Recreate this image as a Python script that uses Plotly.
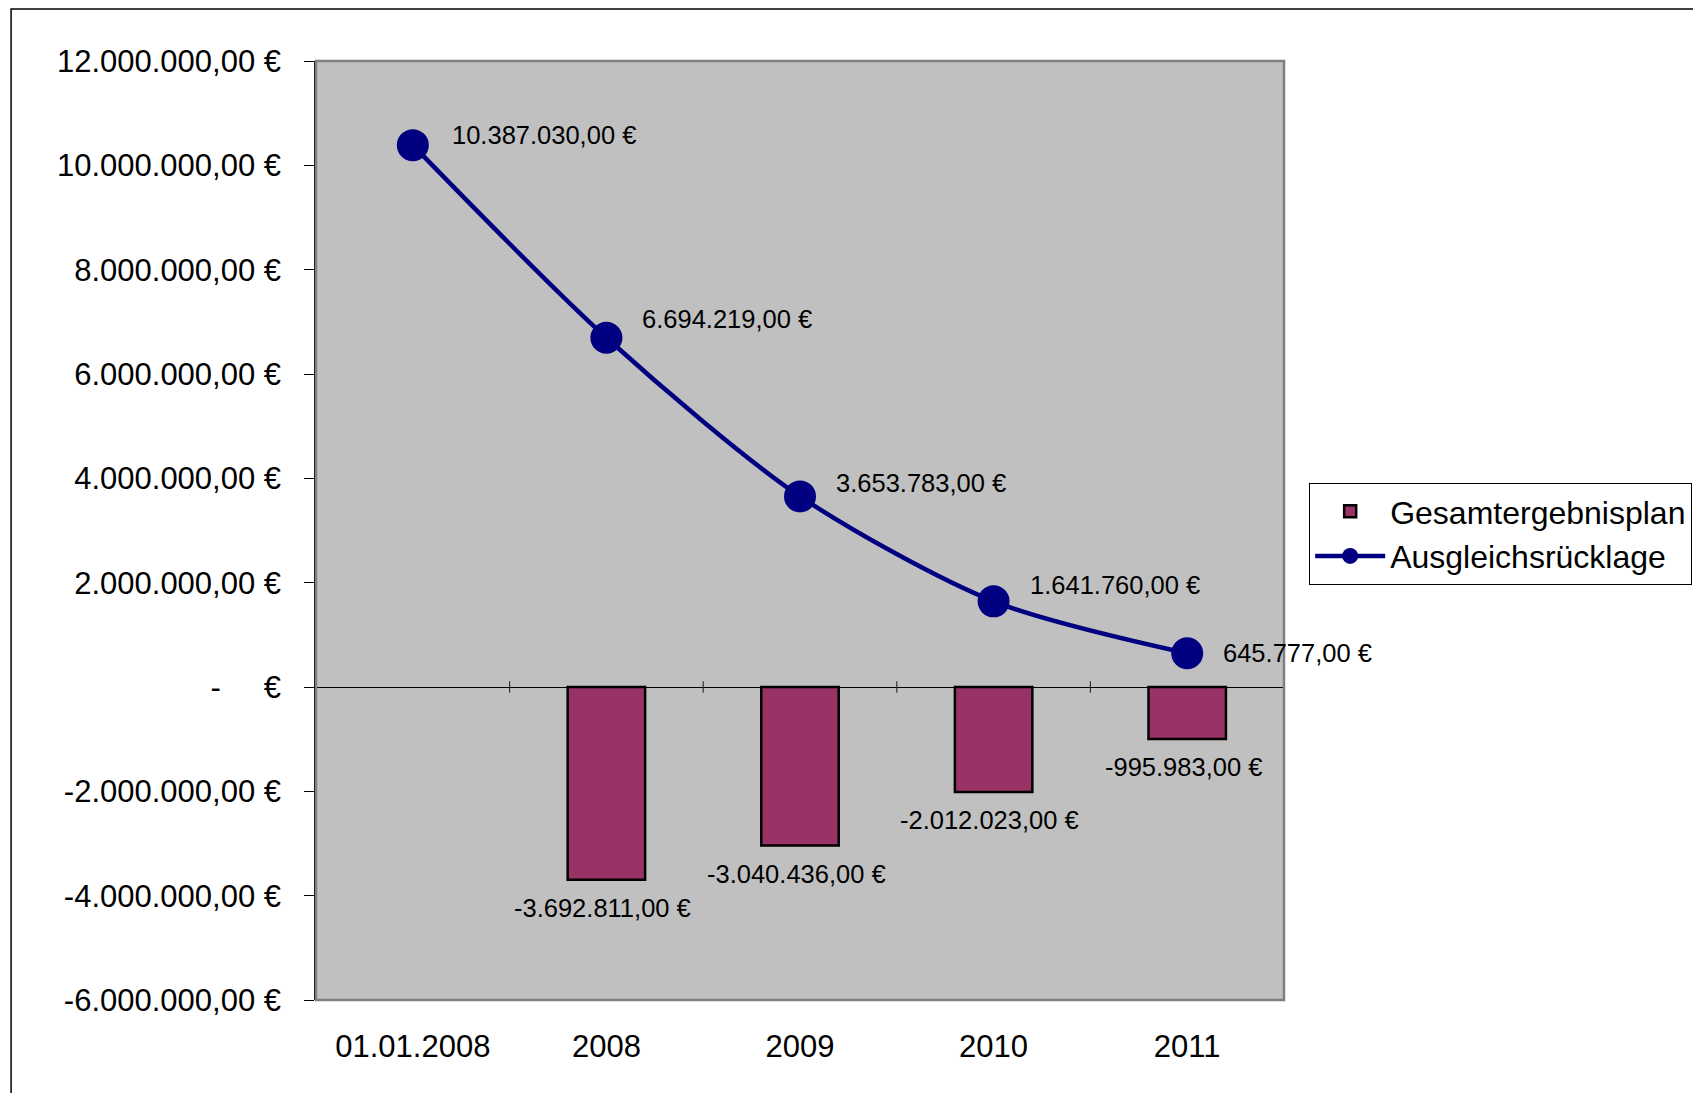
import plotly.graph_objects as go

# Categories and series
categories = ["01.01.2008", "2008", "2009", "2010", "2011"]
ergebnisplan = [None, -3692811, -3040436, -2012023, -995983]
ruecklage = [10387030, 6694219, 3653783, 1641760, 645777]

# Y-axis ticks in German currency format
y_tickvals = [-6000000, -4000000, -2000000, 0, 2000000, 4000000, 6000000,
              8000000, 10000000, 12000000]

# pixel nudges of the line's value labels (placed by hand in the workbook)
label_dy = [10, 19, 13, 16, 0]


def eur(v):
    s = f"{abs(v):,.2f}".replace(",", "X").replace(".", ",").replace("X", ".")
    return ("-" if v < 0 else "") + s + " €"


y_ticktext = [eur(v) if v != 0 else "-\u00a0\u00a0\u00a0\u00a0\u00a0€" for v in y_tickvals]

FONT = "Liberation Sans, Arial, sans-serif"
BAR_COLOR = "#993366"
LINE_COLOR = "#000080"

fig = go.Figure()

fig.add_trace(go.Bar(
    x=categories, y=ergebnisplan, name="Gesamtergebnisplan",
    marker=dict(color=BAR_COLOR, line=dict(color="black", width=2.5)),
    width=0.4,
))

fig.add_trace(go.Scatter(
    x=categories, y=ruecklage, name="Ausgleichsrücklage",
    mode="lines+markers",
    line=dict(color=LINE_COLOR, width=4.5, shape="spline", smoothing=0.8),
    marker=dict(color=LINE_COLOR, size=32),
))

# value labels; category positions given by index so numeric-looking
# category names are not misread as coordinates
annotations = []
for i, v in enumerate(ruecklage):
    annotations.append(dict(
        x=i, y=v, xref="x", yref="y", text=eur(v), showarrow=False,
        xanchor="left", yanchor="middle", xshift=37 if i == 0 else 34,
        yshift=label_dy[i],
        font=dict(family=FONT, size=25.5, color="black"),
    ))
for i, v in enumerate(ergebnisplan):
    if v is None:
        continue
    annotations.append(dict(
        x=i, y=v, xref="x", yref="y", text=eur(v), showarrow=False,
        xanchor="center", yanchor="top", xshift=-4, yshift=-12,
        font=dict(family=FONT, size=25.5, color="black"),
    ))

shapes = [
    # outer chart frame
    dict(type="rect", xref="paper", yref="paper", x0=-0.315, x1=1.6,
         y0=-0.3, y1=1.0554, line=dict(color="black", width=1.5), layer="below"),
    # plot area border
    dict(type="rect", xref="paper", yref="paper", x0=0, x1=1, y0=0, y1=1,
         line=dict(color="#808080", width=2.5), layer="above"),
]
# category boundary tick marks on the zero line
for i in range(1, len(categories)):
    shapes.append(dict(
        type="line", xref="x", yref="y", x0=i - 0.5, x1=i - 0.5,
        y0=-110000, y1=110000, line=dict(color="#333333", width=1.2),
    ))

fig.update_layout(
    width=1693, height=1093,
    margin=dict(l=316, r=409, t=61, b=93, autoexpand=False),
    paper_bgcolor="white",
    plot_bgcolor="#C0C0C0",
    font=dict(family=FONT, size=31, color="black"),
    showlegend=True,
    legend=dict(
        x=1.026, y=0.5506, xanchor="left", yanchor="top",
        bgcolor="white", bordercolor="black", borderwidth=1,
        font=dict(family=FONT, size=32, color="black"),
        itemwidth=70, tracegroupgap=0,
    ),
    bargap=0.6,
    annotations=annotations,
    shapes=shapes,
)

fig.update_xaxes(
    type="category", showgrid=False, zeroline=False,
    showline=False, ticks="outside", ticklen=19, tickcolor="rgba(0,0,0,0)",
    tickfont=dict(family=FONT, size=31),
    range=[-0.5, 4.5],
)
fig.update_yaxes(
    range=[-6000000, 12000000], tickvals=y_tickvals, ticktext=y_ticktext,
    showgrid=False, zeroline=True, zerolinecolor="black", zerolinewidth=1.2,
    showline=True, linecolor="black", linewidth=1.5,
    ticks="outside", ticklen=10, tickcolor="black", tickwidth=1.2,
    ticklabelstandoff=17,
    tickfont=dict(family=FONT, size=31),
)

fig.write_html("out.html")
